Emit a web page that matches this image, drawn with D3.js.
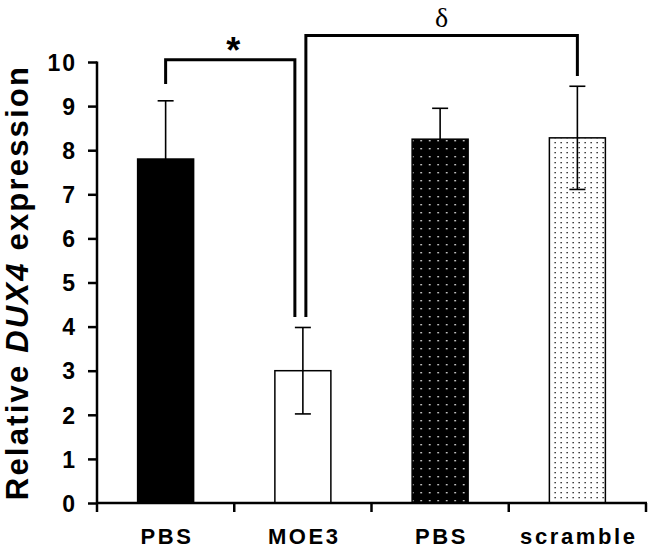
<!DOCTYPE html>
<html><head><meta charset="utf-8">
<script src="https://cdn.jsdelivr.net/npm/d3@7"></script>
<style>body{margin:0;background:#fff}svg{display:block}</style>
</head><body>
<svg id="c" width="650" height="552"></svg>
<script>
const categories = ["PBS", "MOE3", "PBS", "scramble"];
const values = [7.8, 3.0, 8.25, 8.28];
const errors = [1.32, 0.98, 0.7, 1.17];
const fills = ["solid-black", "white", "dots-black", "dots-white"];
const yTicks = [0,1,2,3,4,5,6,7,8,9,10];
// significance brackets
const brackets = [
  {from:0, to:1, level:10.05, leftEnd:9.5, rightEnd:4.22, label:"*", dxL:0, dxR:-8},
  {from:1, to:3, level:10.6, leftEnd:4.22, rightEnd:9.68, label:"δ", dxL:3, dxR:0}
];

const FONT = "Liberation Sans, Arial, sans-serif";
const svg = d3.select("#c");
const x = d3.scaleBand().domain(d3.range(categories.length)).range([97, 646]).padding(0);
const y = d3.scaleLinear().domain([0, 10]).range([503, 62]);
const barW = 56;

const defs = svg.append("defs");
const p1 = defs.append("pattern").attr("id","dotsBlack").attr("patternUnits","userSpaceOnUse")
  .attr("width",8.5).attr("height",8).attr("x",0).attr("y",0);
p1.append("rect").attr("width",8.5).attr("height",8).attr("fill","#000");
p1.append("rect").attr("x",4).attr("y",4).attr("width",1.4).attr("height",1.4).attr("fill","#fff");
const p2 = defs.append("pattern").attr("id","dotsWhite").attr("patternUnits","userSpaceOnUse")
  .attr("width",6).attr("height",5).attr("x",0).attr("y",0);
p2.append("rect").attr("width",6).attr("height",5).attr("fill","#fff");
p2.append("rect").attr("x",2.5).attr("y",2).attr("width",1.3).attr("height",1.3).attr("fill","#111");

const fillOf = f => f==="solid-black" ? "#000" : f==="white" ? "#fff" : f==="dots-black" ? "url(#dotsBlack)" : "url(#dotsWhite)";
const cx = i => x(i) + x.bandwidth()/2;

// bars
svg.append("g").selectAll("rect").data(values).join("rect")
  .attr("x", (d,i) => cx(i) - barW/2)
  .attr("y", d => y(d))
  .attr("width", barW)
  .attr("height", d => y(0) - y(d))
  .attr("fill", (d,i) => fillOf(fills[i]))
  .attr("stroke", "#000").attr("stroke-width", 1.5);

// error bars
const eg = svg.append("g").attr("stroke","#000").attr("stroke-width",1.6);
values.forEach((v,i) => {
  const c = cx(i);
  eg.append("line").attr("x1",c).attr("x2",c).attr("y1",y(v+errors[i])).attr("y2",y(v-errors[i]));
  eg.append("line").attr("x1",c-8).attr("x2",c+8).attr("y1",y(v+errors[i])).attr("y2",y(v+errors[i]));
  eg.append("line").attr("x1",c-8).attr("x2",c+8).attr("y1",y(v-errors[i])).attr("y2",y(v-errors[i]));
});

// y axis
const yAxis = d3.axisLeft(y).tickValues(yTicks).tickSize(9).tickPadding(11).tickFormat(d3.format("d"));
const ya = svg.append("g").attr("transform","translate(97,0)").call(yAxis);
ya.select(".domain").attr("stroke","#000").attr("stroke-width",2.5).attr("d", `M0,${y(10)-0.5}V${y(0)}`);
ya.selectAll(".tick line").attr("stroke","#000").attr("stroke-width",2.5);
ya.selectAll(".tick text").attr("font-family",FONT)
  .attr("font-weight","bold").attr("font-size",23).attr("letter-spacing",2).attr("fill","#000").attr("dy","0.36em");

// x axis
const xAxisG = svg.append("g").attr("transform",`translate(0,${y(0)})`);
xAxisG.append("line").attr("x1",96).attr("x2",647).attr("stroke","#000").attr("stroke-width",2.5);
const xt = d3.range(categories.length+1).map(i => 97 + i*x.bandwidth());
xAxisG.selectAll(".xt").data(xt).join("line").attr("class","xt")
  .attr("x1",d=>d).attr("x2",d=>d).attr("y1",0).attr("y2",9).attr("stroke","#000").attr("stroke-width",2.5);
xAxisG.selectAll("text").data(categories).join("text")
  .attr("x",(d,i)=>cx(i)+1.4).attr("y",41).attr("text-anchor","middle")
  .attr("font-family",FONT).attr("font-weight","bold")
  .attr("font-size",22).attr("letter-spacing",2.6).attr("fill","#000").text(d=>d);

// y title
const t = svg.append("text").attr("transform",`translate(28,${y(5)}) rotate(-90)`)
  .attr("text-anchor","middle").attr("font-family",FONT).attr("letter-spacing",2.2)
  .attr("font-weight","bold").attr("font-size",31).attr("fill","#000");
t.append("tspan").text("Relative ");
t.append("tspan").attr("font-style","italic").text("DUX4");
t.append("tspan").text(" expression");

// brackets
const bg = svg.append("g");
brackets.forEach(b => {
  const xl = cx(b.from) + b.dxL, xr = cx(b.to) + b.dxR;
  bg.append("path").attr("fill","none").attr("stroke","#000").attr("stroke-width",3)
    .attr("d", `M${xl},${y(b.leftEnd)}V${y(b.level)}H${xr}V${y(b.rightEnd)}`);
  const lab = bg.append("text").attr("text-anchor","middle").attr("fill","#000").text(b.label);
  if (b.label === "*") {
    lab.attr("x",(xl+xr)/2+3).attr("y", y(b.level)+3).attr("font-family",FONT).attr("font-weight","bold").attr("font-size",36);
  } else {
    lab.attr("x",(xl+xr)/2).attr("y", y(b.level)-9).attr("font-family","Liberation Serif, Times New Roman, serif").attr("font-size",28);
  }
});
</script>
</body></html>
